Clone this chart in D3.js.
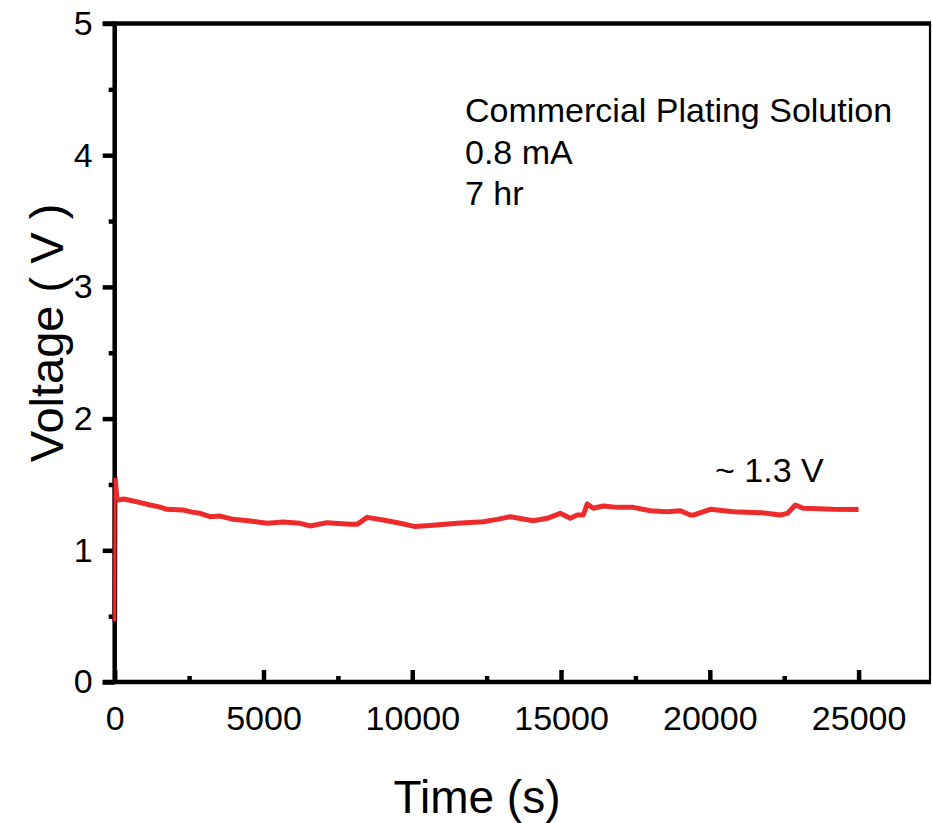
<!DOCTYPE html>
<html>
<head>
<meta charset="utf-8">
<script src="https://cdn.jsdelivr.net/npm/d3@7"></script>
<style>
  body { margin: 0; background: #fff; }
  svg { display: block; font-family: "Liberation Sans", Arial, sans-serif; }
</style>
</head>
<body>
<svg id="chart" width="932" height="823"></svg>
<script>
// time (s) and voltage (V)
var timeS = [0, 15, 80, 300, 514, 900, 1187, 1500, 1759, 2297, 2600, 2868, 3204, 3541, 3978, 4550,
  5121, 5659, 6231, 6567, 7139, 7913, 8148, 8484, 9022, 9593, 10097, 10703, 11510, 12384, 12855,
  13292, 14066, 14536, 14974, 15310, 15545, 15747, 15882, 16084, 16420, 16891, 17429, 18000, 18572,
  19009, 19345, 19446, 20018, 20791, 21699, 22371, 22607, 22876, 23145, 24153, 25000];
var voltage = [0.46, 1.55, 1.38, 1.39, 1.38, 1.36, 1.344, 1.33, 1.311, 1.306, 1.29, 1.281, 1.255, 1.26,
  1.235, 1.222, 1.205, 1.215, 1.205, 1.185, 1.21, 1.197, 1.197, 1.25, 1.23, 1.205, 1.18, 1.19, 1.205,
  1.217, 1.235, 1.255, 1.225, 1.243, 1.281, 1.243, 1.268, 1.268, 1.352, 1.319, 1.336, 1.326, 1.326,
  1.30, 1.293, 1.30, 1.268, 1.268, 1.311, 1.293, 1.286, 1.268, 1.28, 1.344, 1.319, 1.311, 1.31];

var xTicks = [0, 5000, 10000, 15000, 20000, 25000];
var xMinor = [2500, 7500, 12500, 17500, 22500];
var yTicks = [0, 1, 2, 3, 4, 5];
var yMinor = [0.5, 1.5, 2.5, 3.5, 4.5];
var notes = ["Commercial Plating Solution", "0.8 mA", "7 hr"];

var svg = d3.select("#chart");
var plotL = 114.7, plotR = 930, plotT = 23.5, plotB = 682;

var x = d3.scaleLinear().domain([0, 27400]).range([plotL, plotR]);
var y = d3.scaleLinear().domain([0, 5]).range([plotB, plotT]);

var data = timeS.map(function(t, i) { return [t, voltage[i]]; });
var line = d3.line().x(function(d) { return x(d[0]); }).y(function(d) { return y(d[1]); });

/* thin right border */
svg.append("line").attr("x1", plotR).attr("x2", plotR).attr("y1", plotT).attr("y2", plotB)
  .attr("stroke", "#000").attr("stroke-width", 2.2);

/* y axis, ticks outward */
var yAxis = svg.append("g").attr("transform", "translate(" + plotL + ",0)")
  .call(d3.axisLeft(y).tickValues(yTicks).tickSize(12).tickPadding(10).tickFormat(d3.format("d")));
var yAxisMinor = svg.append("g").attr("transform", "translate(" + plotL + ",0)")
  .call(d3.axisLeft(y).tickValues(yMinor).tickSize(6).tickFormat(""));
yAxisMinor.select(".domain").remove();

/* x axis, ticks inward */
var xAxis = svg.append("g").attr("transform", "translate(0," + plotB + ")")
  .call(d3.axisBottom(x).tickValues(xTicks).tickSize(-12).tickPadding(24).tickFormat(d3.format("d")));
var xAxisMinor = svg.append("g").attr("transform", "translate(0," + plotB + ")")
  .call(d3.axisBottom(x).tickValues(xMinor).tickSize(-6).tickFormat(""));
xAxisMinor.select(".domain").remove();

svg.selectAll(".tick line").attr("stroke", "#000").attr("stroke-width", 4.5);
svg.selectAll(".tick text").attr("fill", "#000").style("font-size", "34px");
yAxis.selectAll(".tick text").attr("x", -22);
xAxis.selectAll(".tick text").attr("y", 24).attr("dy", "0.71em");
xAxis.select(".domain").remove();
yAxis.select(".domain").remove();

/* data line */
svg.append("path")
  .datum(data)
  .attr("fill", "none")
  .attr("stroke", "#ee2b2b")
  .attr("stroke-width", 5)
  .attr("stroke-linejoin", "round")
  .attr("d", line);

/* thick axis lines drawn over */
svg.append("line").attr("x1", plotL).attr("x2", plotL).attr("y1", plotT - 2).attr("y2", plotB + 2)
  .attr("stroke", "#000").attr("stroke-width", 4.5);
svg.append("line").attr("x1", plotL - 12).attr("x2", plotR + 1).attr("y1", plotT).attr("y2", plotT)
  .attr("stroke", "#000").attr("stroke-width", 4.5);
svg.append("line").attr("x1", plotL - 12).attr("x2", plotR + 1).attr("y1", plotB).attr("y2", plotB)
  .attr("stroke", "#000").attr("stroke-width", 4.5);

// the spike at t=0 sits on top of the y axis in the original
svg.append("path")
  .datum(data.slice(0, 3))
  .attr("fill", "none")
  .attr("stroke", "#ee2b2b")
  .attr("stroke-width", 3)
  .attr("d", line);

/* annotations */
svg.selectAll(".note").data(notes).enter().append("text")
  .attr("class", "note")
  .attr("x", 465)
  .attr("y", function(d, i) { return 122 + i * 41.5; })
  .style("font-size", "34px")
  .text(function(d) { return d; });

svg.append("text").attr("x", 715).attr("y", 482).style("font-size", "34px").text("~ 1.3 V");

/* axis titles */
svg.append("text").attr("x", 477).attr("y", 813).attr("text-anchor", "middle")
  .style("font-size", "46px").text("Time (s)");
svg.append("text").attr("transform", "translate(63,333) rotate(-90)").attr("text-anchor", "middle")
  .style("font-size", "47px").text("Voltage ( V )");
</script>
</body>
</html>
